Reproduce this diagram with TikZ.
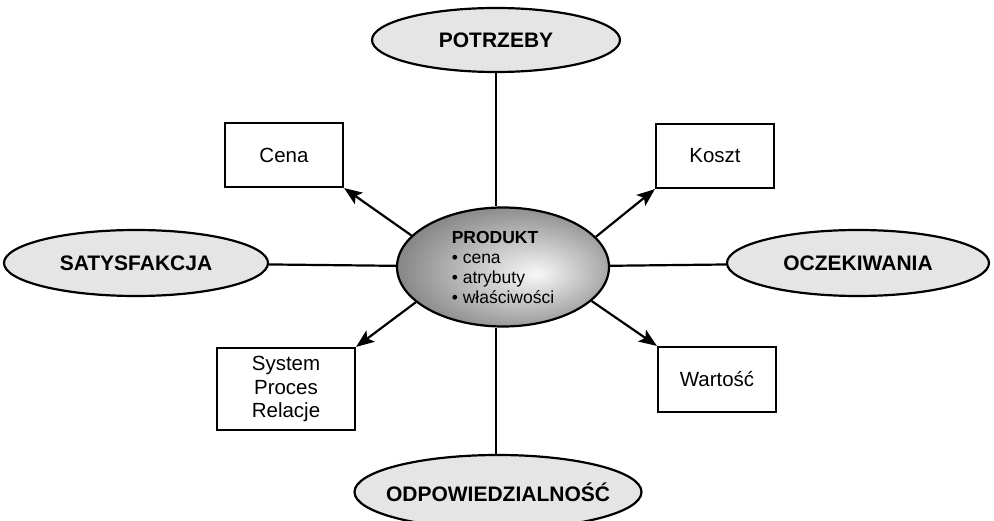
\documentclass[tikz,border=0pt]{standalone}
\usepackage{fontspec}
\setmainfont{Liberation Sans}
\usetikzlibrary{shapes.geometric,arrows.meta}
\pgfdeclareradialshading{prodshade}{\pgfpoint{8bp}{-3bp}}{color(0bp)=(black!3); color(30bp)=(black!50); color(50bp)=(black!55)}
\begin{document}
\begin{tikzpicture}[x=1pt,y=-1pt,
  oval/.style={ellipse, draw, line width=2.2pt, fill=black!10, inner sep=0pt,
    font=\fontsize{21}{24}\selectfont\bfseries},
  box/.style={draw, line width=2.2pt, inner sep=0pt, align=center,
    font=\fontsize{20.5}{23.5}\selectfont},
  link/.style={line width=2.2pt},
  arr/.style={line width=2.2pt, -{Stealth[length=18pt,width=14pt,inset=4pt]}}]
\useasboundingbox (0,0) rectangle (994,521);
% outer ellipses
\node[oval, minimum width=248pt, minimum height=64pt] (potrzeby) at (496,40) {POTRZEBY};
\node[oval, minimum width=264pt, minimum height=66pt] (satysfakcja) at (136,263) {SATYSFAKCJA};
\node[oval, minimum width=262pt, minimum height=66pt] (oczekiwania) at (858,263) {OCZEKIWANIA};
\node[oval, inner xsep=-40pt, minimum width=287pt, minimum height=74pt] (odpow) at (498,492) {ODPOWIEDZIALNOŚĆ};
% centre
\node[ellipse, draw, line width=2.2pt, shading=prodshade, inner sep=0pt,
  minimum width=212pt, minimum height=119pt, align=left,
  font=\fontsize{17.5}{20}\selectfont] (produkt) at (503,267)
  {\textbf{PRODUKT}\\• cena\\• atrybuty\\• właściwości};
% boxes
\node[box, minimum width=118pt, minimum height=64pt] (cena) at (284,155) {Cena};
\node[box, minimum width=118pt, minimum height=64pt] (koszt) at (715,156) {Koszt};
\node[box, minimum width=138pt, minimum height=82pt] (system) at (286,389) {System\\Proces\\Relacje};
\node[box, minimum width=118pt, minimum height=65pt] (wartosc) at (717,379.5) {Wartość};
% links
\draw[link] (potrzeby.south) -- (potrzeby.south |- produkt.north);
\draw[link] (potrzeby.south |- odpow.north) -- (potrzeby.south |- produkt.south);
\draw[link] (satysfakcja) -- (produkt);
\draw[link] (produkt) -- (oczekiwania);
% arrows
\draw[arr] (produkt.161) -- (cena.south east);
\draw[arr] (produkt.18) -- (koszt.south west);
\draw[arr] (produkt.202) -- (system.north east);
\draw[arr] (produkt.339) -- (wartosc.north west);
\end{tikzpicture}
\end{document}
